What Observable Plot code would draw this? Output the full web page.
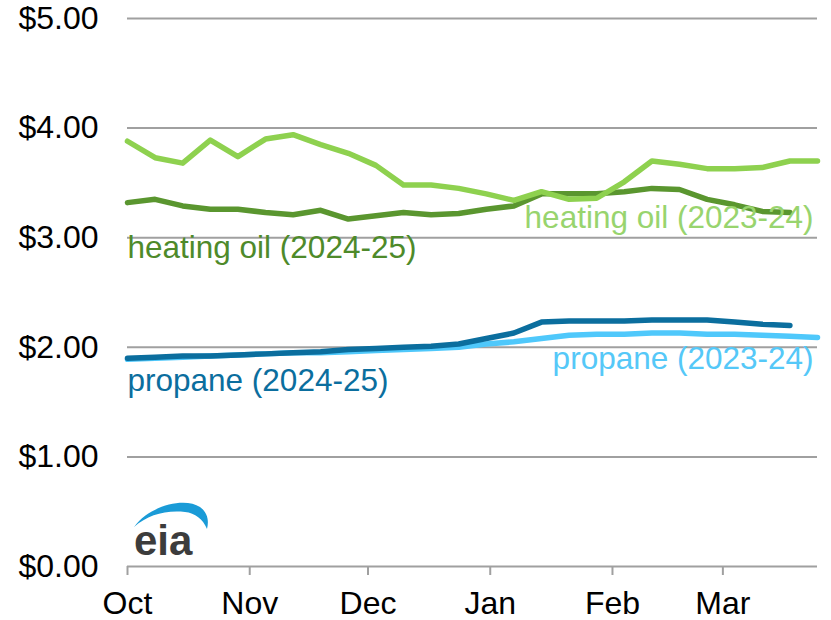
<!DOCTYPE html>
<html><head><meta charset="utf-8">
<script src="https://cdn.jsdelivr.net/npm/d3@7"></script>
<script src="https://cdn.jsdelivr.net/npm/@observablehq/plot@0.6"></script>
<style>body{margin:0;background:#fff;} #chart svg{display:block;}</style>
</head><body><div id="chart"></div>
<script>
const firstWeek = "2024-10-01";
const heatingOil2425 = [3.32,3.35,3.29,3.26,3.26,3.23,3.21,3.25,3.17,3.20,3.23,3.21,3.22,3.26,3.29,3.40,3.40,3.40,3.42,3.45,3.44,3.35,3.30,3.24,3.23];
const heatingOil2324 = [3.88,3.73,3.68,3.89,3.74,3.90,3.94,3.85,3.77,3.66,3.48,3.48,3.45,3.40,3.34,3.42,3.35,3.36,3.51,3.70,3.67,3.63,3.63,3.64,3.70,3.70];
const propane2425 = [1.90,1.91,1.92,1.92,1.93,1.94,1.95,1.96,1.98,1.99,2.00,2.01,2.03,2.08,2.13,2.23,2.24,2.24,2.24,2.25,2.25,2.25,2.23,2.21,2.20];
const propane2324 = [1.89,1.90,1.91,1.92,1.93,1.94,1.95,1.95,1.96,1.97,1.98,1.99,2.00,2.03,2.05,2.08,2.11,2.12,2.12,2.13,2.13,2.12,2.12,2.11,2.10,2.09];
const seriesNames = ["heating oil (2024-25)","heating oil (2023-24)","propane (2023-24)","propane (2024-25)"];
const seriesColors = ["#5a962f","#8ed14f","#4fc8fb","#0b6e9e"];
const labelColors = ["#4e8a2a","#98d46e","#55c8f8","#0b6e9e"];
const monthTicks = ["2024-10-01","2024-11-01","2024-12-01","2025-01-01","2025-02-01","2025-03-01"];
const xDomain = ["2024-10-01","2025-03-25"];
const yTicks = [0,1,2,3,4,5];
// label anchors: [date, value, anchor]
const labelDates = ["2024-10-01","2025-03-24","2025-03-24","2024-10-01"];
const labelValues = [2.91,3.18,1.89,1.69];
const labelAnchors = ["start","end","end","start"];

const start = new Date(firstWeek);
const weekly = (arr, name) => arr.map((v,i) => ({date: new Date(+start + i*7*864e5), value: v, series: name}));
const seriesData = [heatingOil2425, heatingOil2324, propane2324, propane2425].map((arr,i) => weekly(arr, seriesNames[i]));
const labels = seriesNames.map((n,i) => ({name:n, date:new Date(labelDates[i]), value:labelValues[i], anchor:labelAnchors[i], color:labelColors[i]}));

const font = "'Liberation Sans', Arial, sans-serif";
const chart = Plot.plot({
  width: 831, height: 620,
  marginLeft: 127, marginRight: 14, marginTop: 18, marginBottom: 54,
  style: {fontFamily: font, fontSize: "32px", color: "#000", background: "#fff", overflow: "visible"},
  x: {type: "utc", domain: xDomain.map(d => new Date(d))},
  y: {domain: [0,5]},
  marks: [
    Plot.gridY(yTicks, {stroke: "#a0a0a0", strokeOpacity: 1, strokeWidth: 2}),
    Plot.axisY(yTicks, {tickSize: 0, tickPadding: 29, tickFormat: d => "$" + d.toFixed(2), fontSize: 32, label: null}),
    Plot.axisX(monthTicks.map(d => new Date(d)), {tickSize: 9, tickPadding: 16, stroke: "#a0a0a0", strokeWidth: 2, tickFormat: d3.utcFormat("%b"), fontSize: 32, label: null}),
    ...seriesData.map((d,i) => Plot.line(d, {x: "date", y: "value", stroke: seriesColors[i], strokeWidth: 5.5, strokeLinejoin: "round", strokeLinecap: "round"})),
    ...labels.map(l => Plot.text([l], {x: "date", y: "value", text: "name", fill: l.color, textAnchor: l.anchor, fontSize: 31.5}))
  ]
});
document.getElementById("chart").appendChild(chart);

// EIA logo
const svg = d3.select(chart);
const logo = svg.append("g");
logo.append("path")
  .attr("d", "M134,527 C150,505 185,497 200,507 C208,513 209,521 207,529 C203,519 195,513 185,512 C165,510 148,515 134,527 Z")
  .attr("fill", "#1a9bd7");
logo.append("text")
  .attr("x", 134).attr("y", 555)
  .attr("text-anchor", "start")
  .attr("font-family", font).attr("font-weight", "bold").attr("font-size", 42)
  .attr("fill", "#3c3c3c")
  .text("eia");
</script>
</body></html>
